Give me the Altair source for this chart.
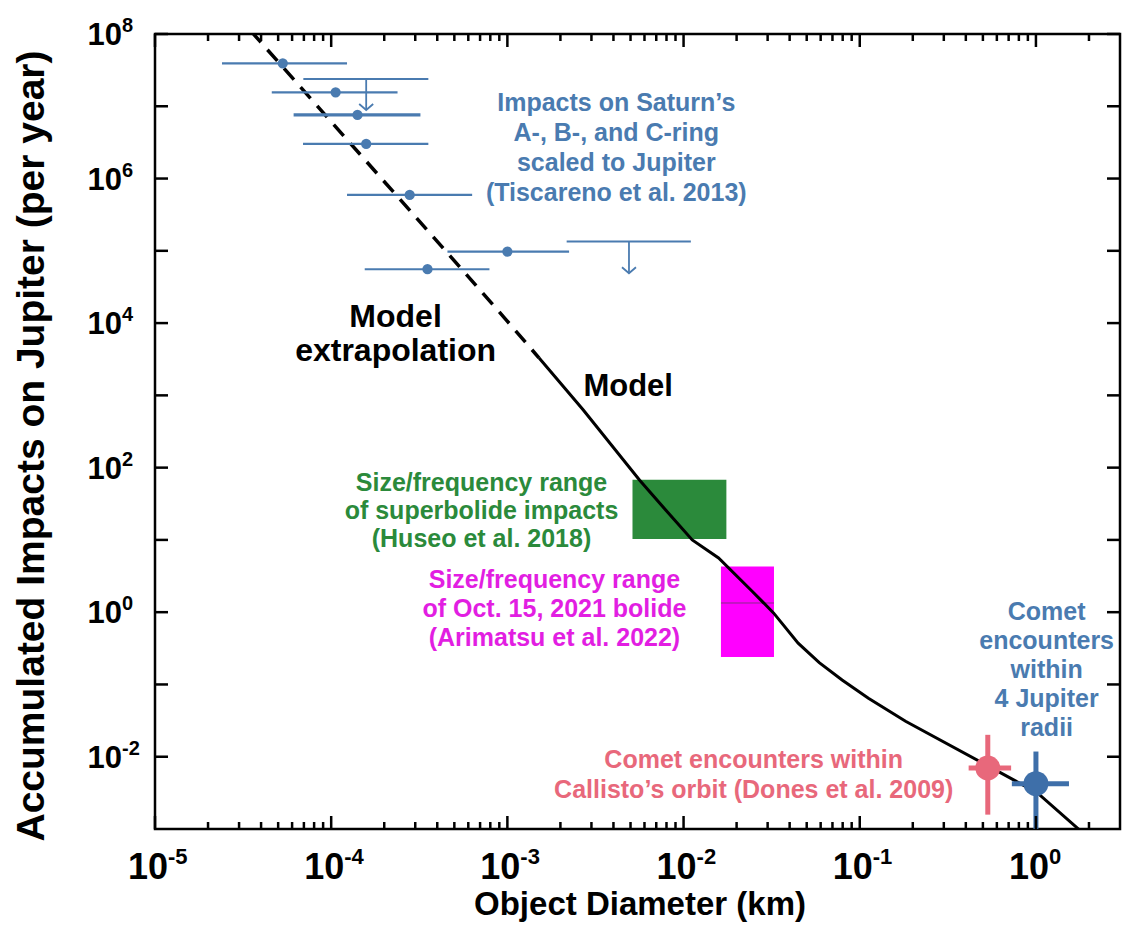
import altair as alt
import pandas as pd

W, H = 965, 795
FONT = "Liberation Sans"

# ---- model curve (object diameter km, accumulated impacts per year) ----
model_dash_x = [3.5e-5, 3.96e-5, 4.50e-4, 9.84e-4, 1.51e-3]
model_dash_y = [1.1e8, 7.83e7, 9.75e4, 1.11e4, 3.31e3]
model_x = [1.51e-3, 2.69e-3, 5.62e-3, 7.94e-3, 1.12e-2, 1.58e-2, 2.45e-2, 3.24e-2,
           4.47e-2, 5.89e-2, 7.94e-2, 0.112, 0.182, 0.537, 1.02, 1.78]
model_y = [3.31e3, 631, 67.6, 25.7, 10.0, 5.62, 1.95, 0.977,
           0.372, 0.200, 0.115, 0.0646, 0.0309, 7.41e-3, 3.16e-3, 9.55e-4]

# ---- Saturn ring impacts scaled to Jupiter (Tiscareno et al. 2013) ----
sat_x = [5.31e-5, 1.06e-4, 1.41e-4, 1.58e-4, 2.79e-4, 1.0e-3, 3.52e-4]
sat_y = [3.93e7, 1.56e7, 7.59e6, 3.01e6, 5.93e5, 9.77e4, 5.56e4]
sat_xlo = [2.40e-5, 4.60e-5, 6.12e-5, 6.92e-5, 1.23e-4, 4.57e-4, 1.55e-4]
sat_xhi = [1.23e-4, 2.38e-4, 3.21e-4, 3.56e-4, 6.31e-4, 2.24e-3, 7.91e-4]
sat_bar_w = [2.2, 2.2, 3.2, 2.2, 2.2, 2.2, 2.2]

# upper limits
lim_y = [2.39e7, 1.35e5]
lim_xlo = [6.95e-5, 2.17e-3]
lim_xhi = [3.56e-4, 1.10e-2]
lim_arrow_x = [1.58e-4, 4.90e-3]
lim_tip_y = [8.89e6, 4.90e4]

# ---- size/frequency boxes ----
box_x0 = [5.13e-3, 1.63e-2]
box_x1 = [1.75e-2, 3.26e-2]
box_y0 = [10.3, 0.239]
box_y1 = [67.8, 4.30]
box_fill = ["#2b8a3b", "#ff00ff"]
bolide_mid_y = 1.34

# ---- comet encounters ----
comet_x = [0.533, 1.0]
comet_y = [6.98e-3, 4.24e-3]
comet_xlo = [0.415, 0.73]
comet_xhi = [0.723, 1.54]
comet_ylo = [1.58e-3, 8e-4]
comet_yhi = [0.0201, 0.0118]
comet_color = ["#e8687b", "#3e6fa9"]

# ---- axis ticks ----
x_major = [1e-5, 1e-4, 1e-3, 1e-2, 1e-1, 1.0]
x_exp = ["-5", "-4", "-3", "-2", "-1", "0"]
x_minor = [m * d for d in x_major for m in range(2, 10) if m * d < 2.95]
y_major = [10.0 ** k for k in range(-2, 9)]
y_lab = [1e8, 1e6, 1e4, 1e2, 1.0, 1e-2]
y_exp = ["8", "6", "4", "2", "0", "-2"]

# ---- annotations (anchored at the centre of their first line) ----
notes = pd.DataFrame({
    "x": [4.15e-3, 2.32e-4, 4.85e-3, 7.13e-4, 1.85e-3, 2.5e-2, 1.15],
    "y": [1.11e7, 1.22e4, 1.31e3, 61.7, 2.81, 9.1e-3, 1.01],
    "lines": [
        ["Impacts on Saturn\u2019s", "A-, B-, and C-ring", "scaled to Jupiter", "(Tiscareno et al. 2013)"],
        ["Model", "extrapolation"],
        ["Model"],
        ["Size/frequency range", "of superbolide impacts", "(Huseo et al. 2018)"],
        ["Size/frequency range", "of Oct. 15, 2021 bolide", "(Arimatsu et al. 2022)"],
        ["Comet encounters within", "Callisto\u2019s orbit (Dones et al. 2009)"],
        ["Comet", "encounters", "within", "4 Jupiter", "radii"],
    ],
    "color": ["#4a7bb0", "#000000", "#000000", "#2b8a3b", "#e21ee2", "#e8687b", "#4a7bb0"],
    "size": [25, 32, 31, 25, 25, 25, 25],
    "lh": [30, 34, 33, 28, 29, 30, 29],
})

xs = alt.Scale(type="log", domain=[1e-5, 3.0], nice=False)
ys = alt.Scale(type="log", domain=[1e-3, 1e8], nice=False)


def X(f):
    return alt.X(f, type="quantitative", scale=xs, axis=None)


def Y(f):
    return alt.Y(f, type="quantitative", scale=ys, axis=None)


SAT = "#4a7bb0"

boxes = pd.DataFrame({"x0": box_x0, "x1": box_x1, "y0": box_y0, "y1": box_y1, "fill": box_fill})
box_layer = alt.Chart(boxes).mark_rect().encode(
    x=X("x0"), x2="x1", y=Y("y0"), y2="y1", color=alt.Color("fill:N", scale=None))

mid_line = alt.Chart(pd.DataFrame({"x0": [box_x0[1]], "x1": [box_x1[1]], "y": [bolide_mid_y]})).mark_rule(
    color="#8a2a8a", strokeWidth=1).encode(x=X("x0"), x2="x1", y=Y("y"))

dash_layer = alt.Chart(pd.DataFrame({"x": model_dash_x, "y": model_dash_y})).mark_line(
    color="black", strokeWidth=3.5, strokeDash=[15, 10], clip=True).encode(x=X("x"), y=Y("y"))
model_layer = alt.Chart(pd.DataFrame({"x": model_x, "y": model_y})).mark_line(
    color="black", strokeWidth=3, clip=True).encode(x=X("x"), y=Y("y"))

sat = pd.DataFrame({"x": sat_x, "y": sat_y, "lo": sat_xlo, "hi": sat_xhi, "w": sat_bar_w})
sat_bars = alt.Chart(sat).mark_rule(color=SAT).encode(
    x=X("lo"), x2="hi", y=Y("y"), strokeWidth=alt.StrokeWidth("w:Q", scale=None))
sat_pts = alt.Chart(sat).mark_circle(color=SAT, size=105, opacity=1).encode(x=X("x"), y=Y("y"))

lim = pd.DataFrame({"y": lim_y, "lo": lim_xlo, "hi": lim_xhi, "ax": lim_arrow_x, "tip": lim_tip_y})
lim_bars = alt.Chart(lim).mark_rule(color=SAT, strokeWidth=2).encode(x=X("lo"), x2="hi", y=Y("y"))
lim_shaft = alt.Chart(lim).mark_rule(color=SAT, strokeWidth=1.8).encode(x=X("ax"), y=Y("y"), y2="tip")
lim_head = alt.Chart(lim).mark_point(
    shape="M-1,-0.85L0,0L1,-0.85", filled=False, color=SAT, strokeWidth=1.8, size=196, opacity=1
).encode(x=X("ax"), y=Y("tip"))

com = pd.DataFrame({"x": comet_x, "y": comet_y, "xlo": comet_xlo, "xhi": comet_xhi,
                    "ylo": comet_ylo, "yhi": comet_yhi, "c": comet_color})
com_h = alt.Chart(com).mark_rule(strokeWidth=5, clip=True).encode(
    x=X("xlo"), x2="xhi", y=Y("y"), color=alt.Color("c:N", scale=None))
com_v = alt.Chart(com).mark_rule(strokeWidth=5, clip=True).encode(
    x=X("x"), y=Y("ylo"), y2="yhi", color=alt.Color("c:N", scale=None))
com_pts = alt.Chart(com).mark_circle(size=620, opacity=1).encode(
    x=X("x"), y=Y("y"), color=alt.Color("c:N", scale=None))

note_layers = []
for _, r in notes.iterrows():
    note_layers.append(
        alt.Chart(pd.DataFrame({"x": [r.x], "y": [r.y], "t": [r.lines]})).mark_text(
            font=FONT, fontWeight="bold", fontSize=int(r["size"]), color=r.color,
            align="center", baseline="middle", lineHeight=float(r.lh)
        ).encode(x=X("x"), y=Y("y"), text="t")
    )

# inward ticks on all four sides
TK = 2.5
xmaj = pd.DataFrame({"v": x_major, "e": x_exp})
xmin = pd.DataFrame({"v": x_minor})
ymaj = pd.DataFrame({"v": y_major})
ylab = pd.DataFrame({"v": y_lab, "e": y_exp})

ticks = [
    alt.Chart(xmaj).mark_rule(color="black", strokeWidth=TK).encode(x=X("v"), y=alt.value(H), y2=alt.value(H - 13)),
    alt.Chart(xmaj).mark_rule(color="black", strokeWidth=TK).encode(x=X("v"), y=alt.value(0), y2=alt.value(13)),
    alt.Chart(xmin).mark_rule(color="black", strokeWidth=TK).encode(x=X("v"), y=alt.value(H), y2=alt.value(H - 7)),
    alt.Chart(xmin).mark_rule(color="black", strokeWidth=TK).encode(x=X("v"), y=alt.value(0), y2=alt.value(7)),
    alt.Chart(ymaj).mark_rule(color="black", strokeWidth=TK).encode(y=Y("v"), x=alt.value(0), x2=alt.value(13)),
    alt.Chart(ymaj).mark_rule(color="black", strokeWidth=TK).encode(y=Y("v"), x=alt.value(W), x2=alt.value(W - 13)),
]

labels = [
    alt.Chart(xmaj).mark_text(font=FONT, fontWeight="bold", fontSize=36, align="right",
                              baseline="alphabetic", dx=13, color="black").encode(
        x=X("v"), y=alt.value(H + 50), text=alt.value("10")),
    alt.Chart(xmaj).mark_text(font=FONT, fontWeight="bold", fontSize=22, align="left",
                              baseline="alphabetic", dx=13, color="black").encode(
        x=X("v"), y=alt.value(H + 35), text="e:N"),
    alt.Chart(ylab).mark_text(font=FONT, fontWeight="bold", fontSize=31, align="right",
                              baseline="alphabetic", dy=11, color="black").encode(
        y=Y("v"), x=alt.value(-33), text=alt.value("10")),
    alt.Chart(ylab).mark_text(font=FONT, fontWeight="bold", fontSize=20, align="left",
                              baseline="alphabetic", dy=-2, color="black").encode(
        y=Y("v"), x=alt.value(-33), text="e:N"),
]

titles = [
    alt.Chart(pd.DataFrame({"t": ["Object Diameter (km)"]})).mark_text(
        font=FONT, fontWeight="bold", fontSize=33, align="center", baseline="alphabetic", color="black"
    ).encode(x=alt.value(485), y=alt.value(H + 86), text="t:N"),
    alt.Chart(pd.DataFrame({"t": ["Accumulated Impacts on Jupiter (per year)"]})).mark_text(
        font=FONT, fontWeight="bold", fontSize=39, align="center", baseline="middle", angle=270, color="black"
    ).encode(x=alt.value(-123), y=alt.value(412), text="t:N"),
]

chart = alt.layer(
    box_layer, mid_line, dash_layer, model_layer,
    sat_bars, lim_bars, lim_shaft, lim_head, sat_pts,
    com_h, com_v, com_pts,
    *note_layers, *ticks, *labels, *titles,
).properties(
    width=W, height=H,
    padding={"left": 155, "top": 34, "right": 4, "bottom": 105},
    autosize=alt.AutoSizeParams(type="none"),
).configure_view(stroke="black", strokeWidth=2.5)

chart.save("out.html", embed_options={"renderer": "svg", "actions": False})
